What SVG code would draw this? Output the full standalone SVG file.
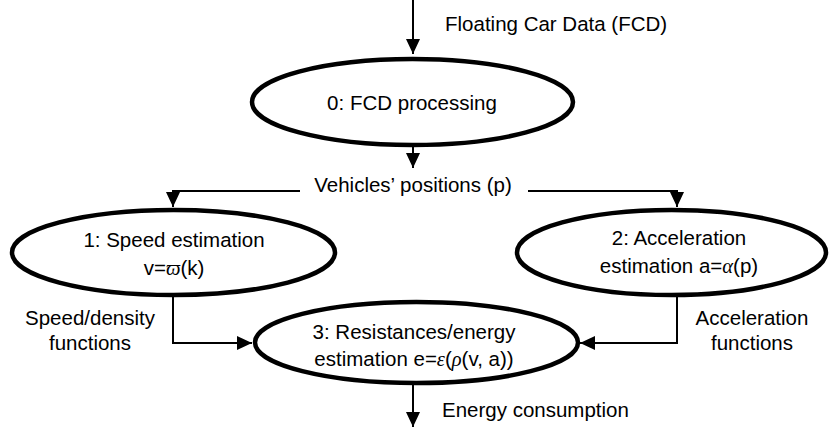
<svg xmlns="http://www.w3.org/2000/svg" width="830" height="427" viewBox="0 0 830 427">
<style>
text{font-family:"Liberation Sans",Arial,sans-serif;font-size:20.5px;fill:#000}
.c{text-anchor:middle}
.g{font-family:"Liberation Serif","Times New Roman",serif;font-style:italic}
.node ellipse{fill:#fff;stroke:#000;stroke-width:4.5}
.conn{fill:none;stroke:#000;stroke-width:2}
</style>
<defs>
<marker id="ah" viewBox="0 0 15 14" refX="15" refY="7" markerWidth="15" markerHeight="14" markerUnits="userSpaceOnUse" orient="auto">
<path d="M0,0 L15,7 L0,14 Z" fill="#000"/>
</marker>
</defs>
<g id="connectors">
<path class="conn" d="M413,0 V54" marker-end="url(#ah)"/>
<path class="conn" d="M413,145 V168" marker-end="url(#ah)"/>
<path class="conn" d="M300,191 H173 V207" marker-end="url(#ah)"/>
<path class="conn" d="M528,191 H677 V207" marker-end="url(#ah)"/>
<path class="conn" d="M173,295 V343 H252" marker-end="url(#ah)"/>
<path class="conn" d="M677,295 V343 H580" marker-end="url(#ah)"/>
<path class="conn" d="M413,383 V427" marker-end="url(#ah)"/>
</g>
<g id="labels">
<text x="445" y="31">Floating Car Data (FCD)</text>
<text class="c" x="413" y="192">Vehicles’ positions (p)</text>
<text class="c" x="90" y="325">Speed/density</text>
<text class="c" x="90" y="350">functions</text>
<text class="c" x="752" y="325">Acceleration</text>
<text class="c" x="752" y="350">functions</text>
<text x="442" y="417">Energy consumption</text>
</g>
<g id="node0" class="node">
<ellipse cx="412.5" cy="102" rx="160.5" ry="43"/>
<text class="c" x="412" y="110">0: FCD processing</text>
</g>
<g id="node1" class="node">
<ellipse cx="173.5" cy="252.5" rx="161.5" ry="42.5"/>
<text class="c" x="174" y="247">1: Speed estimation</text>
<text class="c" x="174" y="275">v=<tspan class="g">ϖ</tspan>(k)</text>
</g>
<g id="node2" class="node">
<ellipse cx="671.5" cy="252.5" rx="154.5" ry="42.5"/>
<text class="c" x="679" y="245">2: Acceleration</text>
<text class="c" x="679" y="273">estimation a=<tspan class="g">α</tspan>(p)</text>
</g>
<g id="node3" class="node">
<ellipse cx="416.5" cy="342.5" rx="161.5" ry="40.5"/>
<text class="c" x="414" y="339">3: Resistances/energy</text>
<text class="c" x="414" y="366">estimation e=<tspan class="g">ε</tspan>(<tspan class="g">ρ</tspan>(v, a))</text>
</g>
</svg>
